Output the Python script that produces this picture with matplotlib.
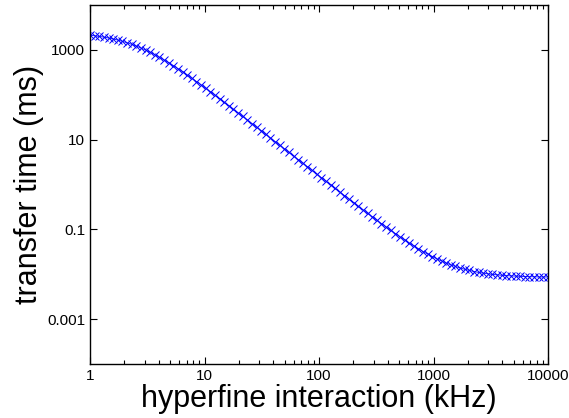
import numpy as np
import matplotlib
matplotlib.use('Agg')
from matplotlib import pyplot as plt
from matplotlib.ticker import FixedLocator, LogLocator, NullFormatter, NullLocator

plt.rcParams['font.family'] = ['Liberation Sans', 'DejaVu Sans']

# -- datos --
hf = np.logspace(0, 4, 100)  # interaccion hiperfina (kHz), 100 puntos log
t_ms = [2116, 2058, 1993, 1920, 1839, 1749, 1653, 1550, 1441, 1329,
        1216, 1102, 991, 883, 781, 685, 597, 517, 446, 382,
        325, 276, 234, 197, 166, 140, 117, 97.9, 81.9, 68.4,
        57.0, 47.5, 39.6, 33.0, 27.4, 22.8, 19.0, 15.8, 13.1, 10.9,
        9.05, 7.52, 6.25, 5.19, 4.31, 3.58, 2.98, 2.48, 2.06, 1.71,
        1.42, 1.18, 0.983, 0.817, 0.680, 0.566, 0.471, 0.393, 0.328, 0.273,
        0.228, 0.191, 0.160, 0.134, 0.113, 0.0953, 0.0805, 0.0683, 0.0582, 0.0497,
        0.0427, 0.0369, 0.0321, 0.0281, 0.0248, 0.0220, 0.0197, 0.0178, 0.0162, 0.0149,
        0.0138, 0.0129, 0.0122, 0.0115, 0.0110, 0.0106, 0.0102, 0.0099, 0.0097, 0.0095,
        0.0093, 0.0092, 0.0091, 0.0090, 0.0089, 0.0088, 0.0088, 0.0087, 0.0087, 0.0087]
xticks = [1, 10, 100, 1000, 10000]
xticklabels = ['1', '10', '100', '1000', '10000']
yticks = [0.001, 0.1, 10, 1000]
yticklabels = ['0.001', '0.1', '10', '1000']

fig = plt.figure(figsize=(5.69, 4.18), dpi=100)
ax = fig.add_axes([0.1582, 0.1292, 0.8049, 0.8589])
ax.plot(hf, t_ms, color='blue', marker='x', markersize=5.5, linewidth=0.6, markeredgewidth=0.7)

ax.set_xscale('log')
ax.set_yscale('log')
ax.set_xlim(1, 10000)
ax.set_ylim(1e-4, 1e4)

ax.xaxis.set_major_locator(FixedLocator(xticks))
ax.set_xticklabels(xticklabels)
ax.xaxis.set_minor_locator(LogLocator(base=10, subs=np.arange(2, 10)))
ax.xaxis.set_minor_formatter(NullFormatter())
ax.yaxis.set_major_locator(FixedLocator(yticks))
ax.set_yticklabels(yticklabels)
ax.yaxis.set_minor_locator(NullLocator())

ax.tick_params(which='both', direction='in', top=True, right=True, labelsize=11, width=0.8)
ax.tick_params(which='major', length=5)
ax.tick_params(which='minor', length=3)
for s in ax.spines.values():
    s.set_linewidth(1.0)

ax.set_xlabel('hyperfine interaction (kHz)', fontsize=22, labelpad=1)
ax.set_ylabel('transfer time (ms)', fontsize=22, labelpad=2)

fig.savefig('out.png', dpi=100)
